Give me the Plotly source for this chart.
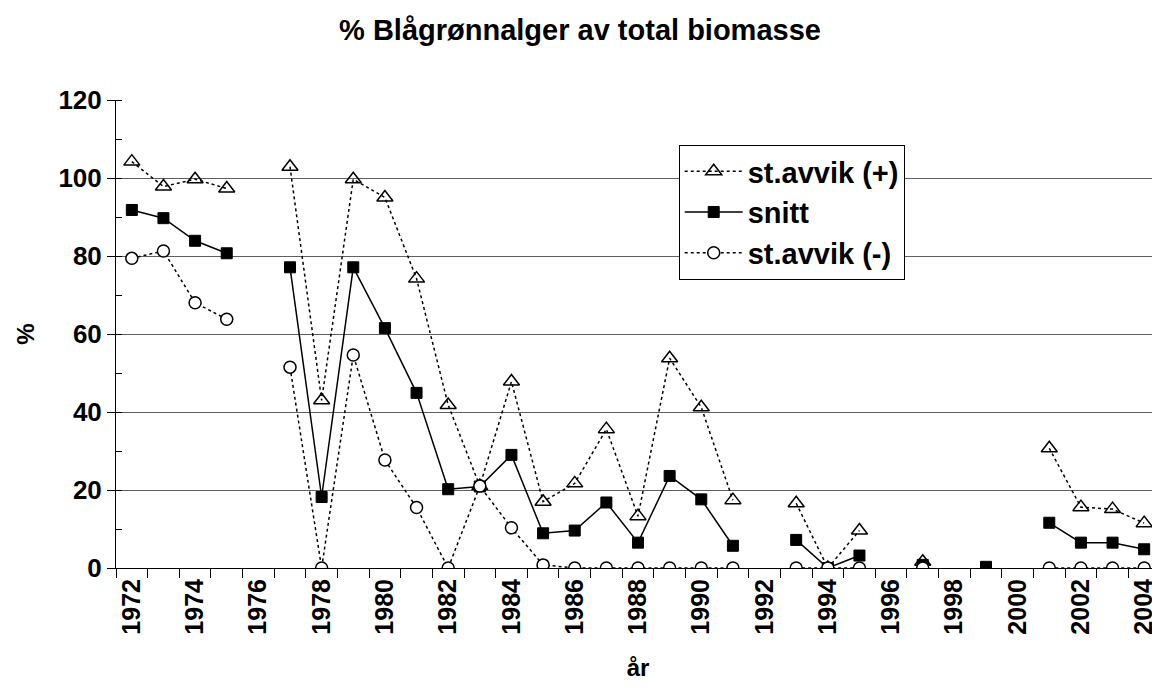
import plotly.graph_objects as go

years = list(range(1972, 2005))

snitt = [91.8, 89.7, 83.9, 80.7, None, 77.1, 18.2, 77.1, 61.5, 44.9,
         20.2, 20.9, 29.0, 8.9, 9.6, 16.8, 6.5, 23.6, 17.6, 5.7,
         None, 7.2, 0.0, 3.2, None, 0.8, None, 0.3, None, 11.6,
         6.5, 6.5, 4.8]

st_pluss = [104.2, 97.8, 99.7, 97.3, None, 102.9, 43.0, 99.7, 95.0, 74.2,
            41.8, 21.0, 47.8, 17.0, 21.7, 35.6, 13.3, 53.8, 41.2, 17.4,
            None, 16.6, 0.0, 9.6, None, 1.6, None, None, None, 30.7,
            15.6, 15.1, 11.5]

st_minus = [79.4, 81.3, 68.0, 63.8, None, 51.5, 0.0, 54.6, 27.7, 15.5,
            0.0, 21.0, 10.3, 0.8, 0.0, 0.0, 0.0, 0.0, 0.0, 0.0,
            None, 0.0, 0.0, 0.0, None, 0.0, None, None, None, 0.0,
            0.0, 0.0, 0.0]

tick_years = list(range(1972, 2005, 2))
tick_labels = [str(y) for y in tick_years]
y_ticks = [0, 20, 40, 60, 80, 100, 120]

FONT = "Arial, Liberation Sans, sans-serif"
W, H = 1152, 679

fig = go.Figure()
fig.add_trace(go.Scatter(
    x=years, y=st_pluss, name="<b>st.avvik (+)</b>", mode="lines+markers",
    line=dict(color="black", width=1.5, dash="dot"),
    marker=dict(symbol="triangle-up-open", size=14, color="black",
                line=dict(color="black", width=1.5)),
    connectgaps=False))
fig.add_trace(go.Scatter(
    x=years, y=snitt, name="<b>snitt</b>", mode="lines+markers",
    line=dict(color="black", width=1.5),
    marker=dict(symbol="square", size=11, color="black",
                line=dict(color="black", width=1)),
    connectgaps=False))
fig.add_trace(go.Scatter(
    x=years, y=st_minus, name="<b>st.avvik (-)</b>", mode="lines+markers",
    line=dict(color="black", width=1.5, dash="dot"),
    marker=dict(symbol="circle", size=12, color="white",
                line=dict(color="black", width=1.5)),
    connectgaps=False))

fig.update_layout(
    width=W, height=H,
    margin=dict(l=108, r=0, t=92, b=119),
    paper_bgcolor="white", plot_bgcolor="white",
    font=dict(family=FONT, color="black", size=26),
    title=dict(text="<b>% Blågrønnalger av total biomasse</b>",
               x=572 / W, xref="container", xanchor="center",
               y=1 - 22 / H, yref="container", yanchor="middle",
               font=dict(size=29, family=FONT)),
    legend=dict(x=0.539, y=0.904, xanchor="left", yanchor="top",
                bgcolor="white", bordercolor="black", borderwidth=1,
                font=dict(size=29, family=FONT), tracegroupgap=0,
                itemwidth=58),
    showlegend=True,
)
fig.update_xaxes(
    range=[1971.5, 2004.5], tickmode="array", tickvals=tick_years,
    ticktext=[f"<b>{t}</b>" for t in tick_labels], tickangle=-90,
    ticks="", showgrid=False, zeroline=False,
    showline=True, linecolor="black", linewidth=1,
    tickfont=dict(size=25, family=FONT),
    minor=dict(tick0=1971.5, dtick=1, ticks="outside", ticklen=9,
               tickcolor="black", tickwidth=1, showgrid=False),
    title=dict(text="<b>år</b>", standoff=25, font=dict(size=24, family=FONT)),
)
fig.update_yaxes(
    range=[0, 120], tickmode="array", tickvals=y_ticks,
    ticktext=[f"<b>{v}</b>" for v in y_ticks],
    ticks="outside", ticklen=8, tickcolor="black",
    showgrid=True, gridcolor="#606060", gridwidth=1,
    zeroline=False, showline=True, linecolor="black", linewidth=1,
    tickfont=dict(size=26, family=FONT),
    minor=dict(tick0=0, dtick=10, ticks="inside", ticklen=6, tickcolor="black",
               showgrid=False),
    title=dict(text="<b>%</b>", standoff=17, font=dict(size=24, family=FONT)),
)

fig.write_html("out.html")
